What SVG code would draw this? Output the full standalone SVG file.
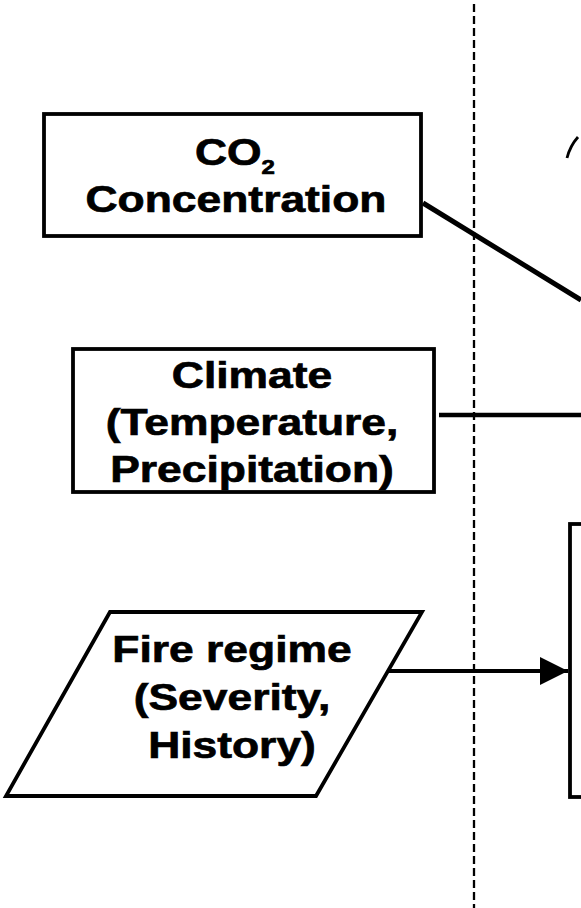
<svg xmlns="http://www.w3.org/2000/svg" width="581" height="908" viewBox="0 0 581 908">
  <style>
    .box { fill: #fff; stroke: #000; stroke-width: 3.8; }
    .edge { fill: none; stroke: #000; stroke-linecap: butt; }
    .lbl { font-family: "Liberation Sans", Arial, sans-serif; font-weight: bold; font-size: 37px; fill: #000; stroke: #000; stroke-width: 0.7; text-anchor: middle; }
    .divider { fill: none; stroke: #000; stroke-width: 2.3; stroke-dasharray: 8 4; }
  </style>
  <defs>
    <marker id="arrowhead" markerUnits="userSpaceOnUse" markerWidth="30" markerHeight="30" refX="28" refY="14" orient="auto">
      <path d="M0,0 L28,14 L0,28 Z" fill="#000"/>
    </marker>
  </defs>
  <rect width="581" height="908" fill="#fff"/>

  <!-- vertical dashed divider -->
  <line class="divider" x1="474" y1="4" x2="474" y2="908"/>

  <!-- connectors -->
  <g id="connectors">
    <line class="edge" x1="423" y1="203" x2="581" y2="300" stroke-width="5"/>
    <line class="edge" x1="439" y1="415" x2="581" y2="415" stroke-width="4.4"/>
    <line class="edge" x1="388" y1="671" x2="568" y2="671" stroke-width="4" marker-end="url(#arrowhead)"/>
    <path class="edge" d="M567,158 Q570,146 578,137" stroke-width="2.8"/>
  </g>

  <!-- CO2 concentration -->
  <g id="co2">
    <rect class="box" x="44" y="114" width="377" height="122"/>
    <g transform="translate(235,0) scale(1.2,1)">
      <text class="lbl" x="0" y="165">CO<tspan font-size="20" dy="9">2</tspan></text>
    </g>
    <g transform="translate(236,0) scale(1.2,1)">
      <text class="lbl" x="0" y="212">Concentration</text>
    </g>
  </g>

  <!-- Climate -->
  <g id="climate">
    <rect class="box" x="73" y="349" width="361" height="143"/>
    <g transform="translate(252,0) scale(1.2,1)">
      <text class="lbl" x="0" y="388">Climate</text>
      <text class="lbl" x="0" y="435">(Temperature,</text>
      <text class="lbl" x="0" y="482">Precipitation)</text>
    </g>
  </g>

  <!-- Fire regime (input) -->
  <g id="fire">
    <polygon class="box" points="110,612 422,612 316,796 6,796"/>
    <g transform="translate(232,0) scale(1.2,1)">
      <text class="lbl" x="0" y="662">Fire regime</text>
      <text class="lbl" x="0" y="710">(Severity,</text>
      <text class="lbl" x="0" y="758">History)</text>
    </g>
  </g>

  <!-- target process box (partly visible) -->
  <g id="target">
    <rect class="box" x="570" y="524" width="40" height="273" stroke-width="4.2"/>
  </g>
</svg>
